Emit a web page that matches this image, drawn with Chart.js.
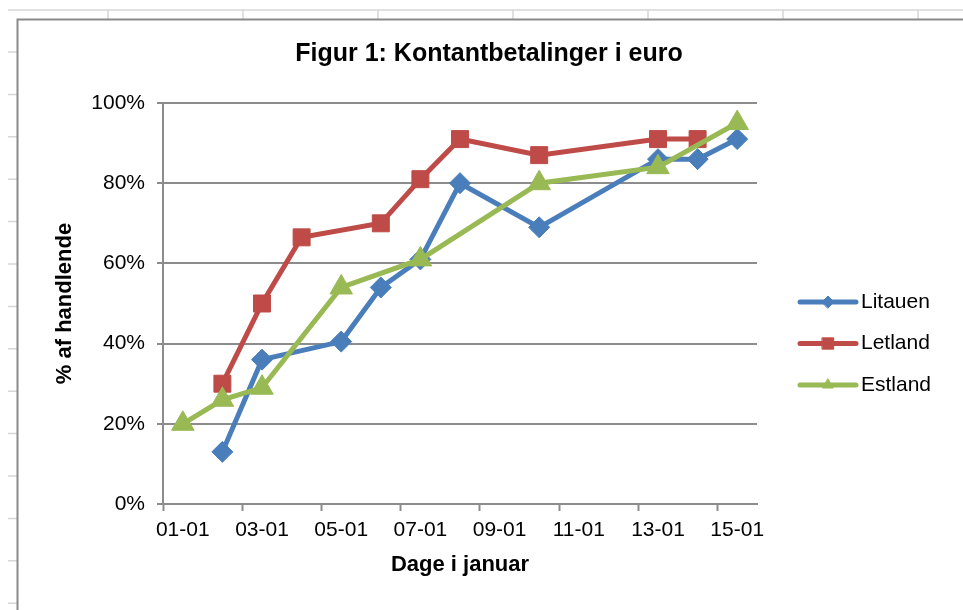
<!DOCTYPE html>
<html><head><meta charset="utf-8">
<script src="https://cdn.jsdelivr.net/npm/chart.js@4/dist/chart.umd.min.js"></script>
<style>html,body{margin:0;padding:0;background:#fff}#wrap{width:963px;height:610px}</style>
</head><body><div id="wrap"><canvas id="c" width="963" height="610"></canvas></div>
<script>
const categories = ['01-01','02-01','03-01','04-01','05-01','06-01','07-01','08-01','09-01','10-01','11-01','12-01','13-01','14-01','15-01'];
const litauen = [null, 13, 36, null, 40.5, 54, 61, 80, null, 69, null, null, 86, 86, 91];
const letland = [null, 30, 50, 66.5, null, 70, 81, 91, null, 87, null, null, 91, 91, null];
const estland = [20, 26, 29, null, 54, null, 61, null, null, 80, null, null, 84, null, 95];
const seriesNames = ['Litauen', 'Letland', 'Estland'];
const chartTitle = 'Figur 1: Kontantbetalinger i euro';
const xTitle = 'Dage i januar';
const yTitle = '% af handlende';

const FONT = "'Liberation Sans', Arial, sans-serif";
const GRID = '#8c8c8c';
const colors = ['#4A7EBB', '#BE4B48', '#98B954'];
const styles = ['rectRot', 'rect', 'triangle'];
const radii = [10.5, 12, 13];

const bgPlugin = {
  id: 'sheet',
  beforeDraw(chart) {
    const ctx = chart.ctx;
    ctx.save();
    ctx.fillStyle = '#fff';
    ctx.fillRect(0, 0, chart.width, chart.height);
    ctx.strokeStyle = '#d6d6d6';
    ctx.lineWidth = 1.5;
    ctx.beginPath();
    ctx.moveTo(8, 10); ctx.lineTo(chart.width, 10);
    for (let x = 108; x < chart.width; x += 135) { ctx.moveTo(x, 10); ctx.lineTo(x, 19); }
    for (let y = 52; y < chart.height; y += 42.4) { ctx.moveTo(8, y); ctx.lineTo(17, y); }
    ctx.stroke();
    ctx.strokeStyle = '#8a8a8a';
    ctx.lineWidth = 2;
    ctx.beginPath();
    ctx.moveTo(17.5, chart.height + 2); ctx.lineTo(17.5, 19.5); ctx.lineTo(chart.width + 2, 19.5);
    ctx.stroke();
    ctx.restore();
  }
};

const legendPlugin = {
  id: 'excelLegend',
  afterDraw(chart) {
    const ctx = chart.ctx;
    ctx.save();
    chart.data.datasets.forEach((ds, i) => {
      const y = 302 + i * 41.5;
      ctx.strokeStyle = ds.borderColor;
      ctx.lineWidth = 5;
      ctx.lineCap = 'round';
      ctx.beginPath(); ctx.moveTo(800, y); ctx.lineTo(856, y); ctx.stroke();
      ctx.fillStyle = ds.borderColor;
      ctx.strokeStyle = ds.borderColor;
      ctx.lineWidth = 1;
      Chart.helpers.drawPoint(ctx, { pointStyle: ds.pointStyle, radius: i === 1 ? 8 : 6, rotation: 0, borderWidth: 1 }, 828, y);
      ctx.fillStyle = '#000';
      ctx.font = "21px " + FONT;
      ctx.textAlign = 'left';
      ctx.textBaseline = 'middle';
      ctx.fillText(ds.label, 861, y);
    });
    ctx.restore();
  }
};

const seriesData = [litauen, letland, estland];
new Chart(document.getElementById('c'), {
  type: 'line',
  data: {
    labels: categories,
    datasets: seriesData.map((d, i) => ({
      label: seriesNames[i],
      data: d,
      borderColor: colors[i],
      backgroundColor: colors[i],
      pointBackgroundColor: colors[i],
      pointBorderColor: colors[i],
      borderWidth: 5,
      pointStyle: styles[i],
      pointRadius: radii[i],
      pointBorderWidth: 1,
      spanGaps: true,
      tension: 0,
      order: 3 - i
    }))
  },
  options: {
    responsive: false,
    animation: false,
    devicePixelRatio: 1,
    events: [],
    layout: { padding: { left: 17, right: 2, top: 0, bottom: 0 } },
    plugins: {
      legend: { display: false },
      tooltip: { enabled: false },
      title: {
        display: true, text: chartTitle, color: '#000',
        font: { family: FONT, size: 25, weight: 'bold' },
        padding: { top: 39, bottom: 34 }
      }
    },
    scales: {
      x: {
        type: 'category',
        offset: true,
        afterFit: s => { s.height = 106; },
        grid: {
          offset: true, drawOnChartArea: false, drawTicks: true, tickLength: 7,
          tickColor: ctx => (ctx.index !== undefined && ctx.index % 2 === 0) ? GRID : 'rgba(0,0,0,0)',
          tickWidth: 2
        },
        border: { display: true, color: GRID, width: 2 },
        ticks: {
          autoSkip: false, maxRotation: 0, minRotation: 0, padding: 7, color: '#000',
          font: { family: FONT, size: 21 },
          callback: function (v, i) { return i % 2 === 0 ? this.getLabelForValue(v) : ''; }
        },
        title: {
          display: true, text: xTitle, color: '#000',
          font: { family: FONT, size: 22, weight: 'bold' },
          padding: { top: 0, bottom: 32 }
        }
      },
      y: {
        min: 0, max: 100,
        afterFit: s => { s.width = 146; },
        grid: { color: GRID, lineWidth: 2, tickLength: 6, tickColor: GRID },
        border: { display: true, color: GRID, width: 2 },
        ticks: {
          stepSize: 20, padding: 12, color: '#000',
          font: { family: FONT, size: 21 },
          callback: v => v + '%'
        },
        title: {
          display: true, text: yTitle, color: '#000',
          font: { family: FONT, size: 22, weight: 'bold' },
          padding: { top: 35, bottom: 0 }
        }
      },
      legendSpace: {
        type: 'linear',
        position: 'right',
        display: true,
        afterFit: s => { s.width = 204; },
        grid: { display: false, drawTicks: false },
        border: { display: false },
        ticks: { display: false }
      }
    }
  },
  plugins: [bgPlugin, legendPlugin]
});
</script></body></html>
